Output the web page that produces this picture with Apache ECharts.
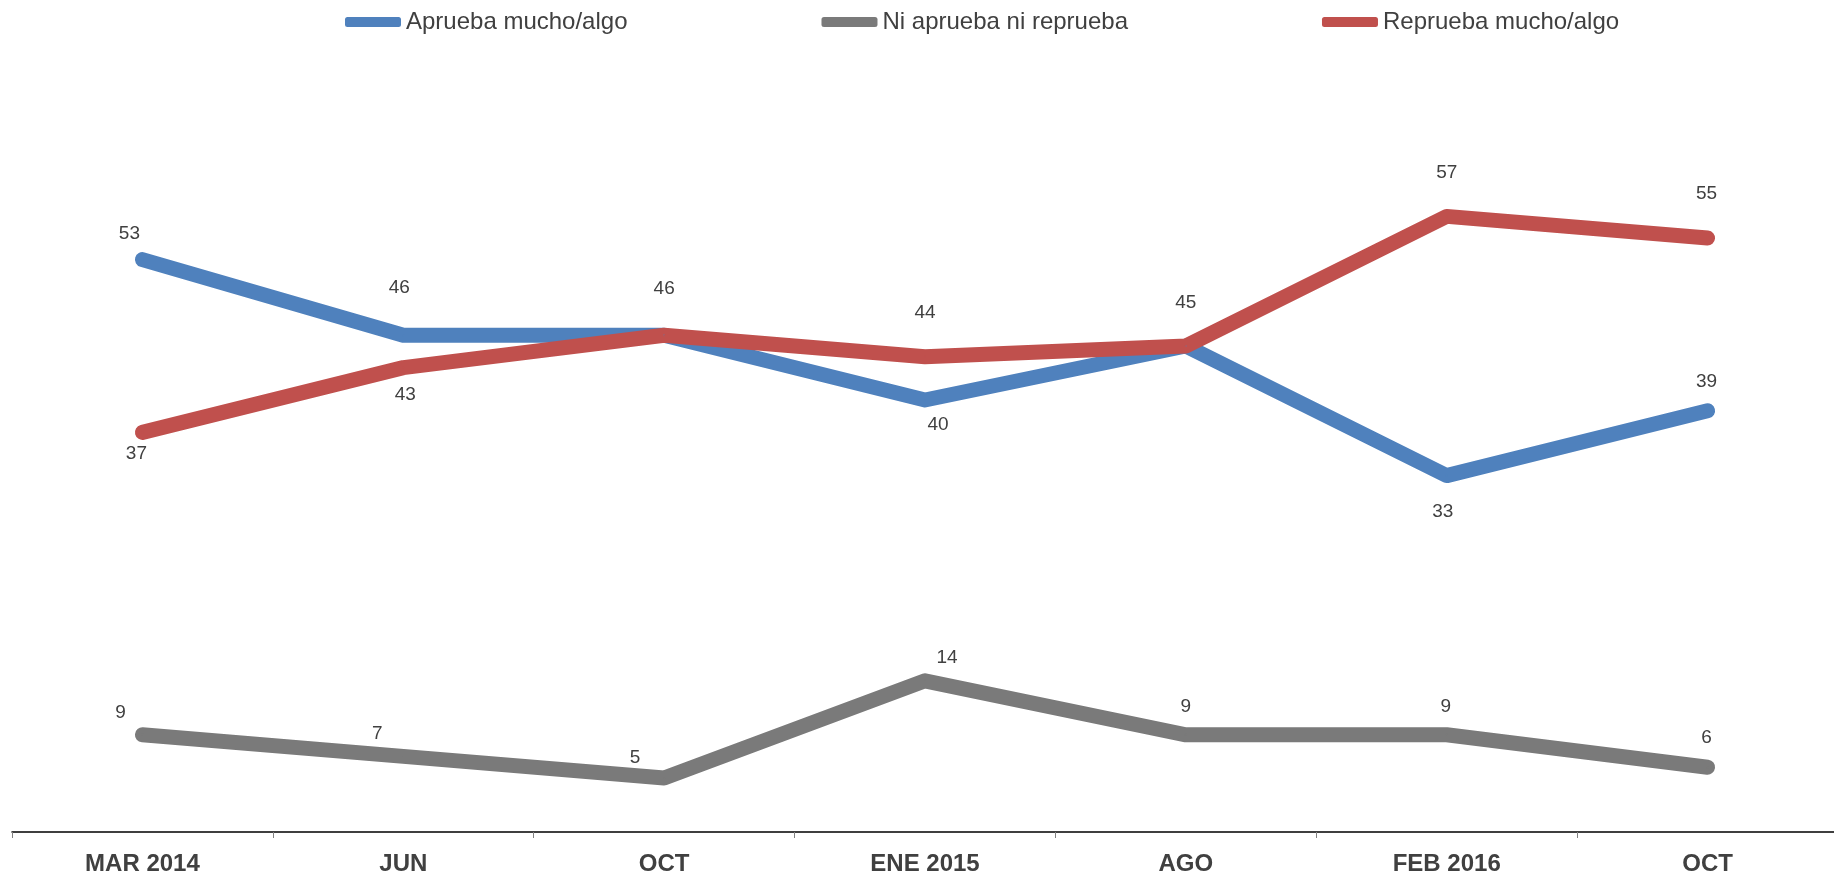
<!DOCTYPE html>
<html>
<head>
<meta charset="utf-8">
<script src="https://cdn.jsdelivr.net/npm/echarts@6/dist/echarts.min.js"></script>
<style>
html,body{margin:0;padding:0;background:#fff;}
#chart{width:1834px;height:872px;}
</style>
</head>
<body>
<div id="chart"></div>
<script>
// ---- data ----
const categories = ['MAR 2014', 'JUN', 'OCT', 'ENE 2015', 'AGO', 'FEB 2016', 'OCT'];
const seriesNames = ['Aprueba mucho/algo', 'Ni aprueba ni reprueba', 'Reprueba mucho/algo'];
const aprueba = [53, 46, 46, 40, 45, 33, 39];
const ni = [9, 7, 5, 14, 9, 9, 6];
const reprueba = [37, 43, 46, 44, 45, 57, 55];

// ---- label placement (styling, px offsets from each point; null = no label) ----
const apruebaLabelOffsets = [[-13, -26], [-4, -47], null, [13, 25], null, [-4, 36], [-1, -29]];
const niLabelOffsets = [[-22, -22], [-26, -23], [-29, -20], [22, -23], [0, -28], [-1, -28], [-1, -29]];
const reprobLabelOffsets = [[-6, 21], [2, 27], [0, -46], [0, -44], [0, -43], [0, -44], [-1, -44]];

const colors = ['#4F81BD', '#7A7A7A', '#C0504D'];
const FONT = '"Liberation Sans", Arial, sans-serif';

function buildData(values, offsets) {
  return values.map((v, i) => {
    const off = offsets[i];
    return {
      value: v,
      label: off ? { show: true, offset: off } : { show: false }
    };
  });
}

function makeSeries(name, values, offsets, color) {
  return {
    name: name,
    type: 'line',
    data: buildData(values, offsets),
    symbol: 'circle',
    symbolSize: 2,
    showSymbol: true,
    itemStyle: { color: color },
    lineStyle: { color: color, width: 15, cap: 'round', join: 'round' },
    label: {
      show: true,
      position: 'inside',
      align: 'center',
      verticalAlign: 'middle',
      color: '#404040',
      fontSize: 19,
      fontFamily: FONT
    },
    emphasis: { disabled: true },
    animation: false
  };
}

const chart = echarts.init(document.getElementById('chart'), null, { renderer: 'canvas' });
chart.setOption({
  backgroundColor: '#ffffff',
  animation: false,
  color: colors,
  legend: {
    data: seriesNames,
    left: 340,
    top: 5,
    icon: 'roundRect',
    itemWidth: 56,
    itemHeight: 10,
    itemGap: 194,
    textStyle: { color: '#404040', fontSize: 24, fontFamily: FONT }
  },
  grid: {
    left: 12,
    right: -4,
    top: 76,
    bottom: 40,
    outerBoundsMode: 'none',
    containLabel: false
  },
  xAxis: {
    type: 'category',
    data: categories,
    boundaryGap: true,
    offset: 2,
    axisLine: { show: true, lineStyle: { color: '#000000', width: 1.5 } },
    axisTick: { show: true, length: 6, lineStyle: { color: '#808080', width: 1 } },
    axisLabel: {
      color: '#404040',
      fontSize: 24,
      fontWeight: 'bold',
      fontFamily: FONT,
      margin: 18,
      interval: 0
    },
    splitLine: { show: false }
  },
  yAxis: {
    type: 'value',
    min: 0,
    max: 70,
    interval: 10,
    show: false,
    splitLine: { show: false }
  },
  series: [
    makeSeries(seriesNames[0], aprueba, apruebaLabelOffsets, colors[0]),
    makeSeries(seriesNames[1], ni, niLabelOffsets, colors[1]),
    makeSeries(seriesNames[2], reprueba, reprobLabelOffsets, colors[2])
  ]
});
</script>
</body>
</html>
